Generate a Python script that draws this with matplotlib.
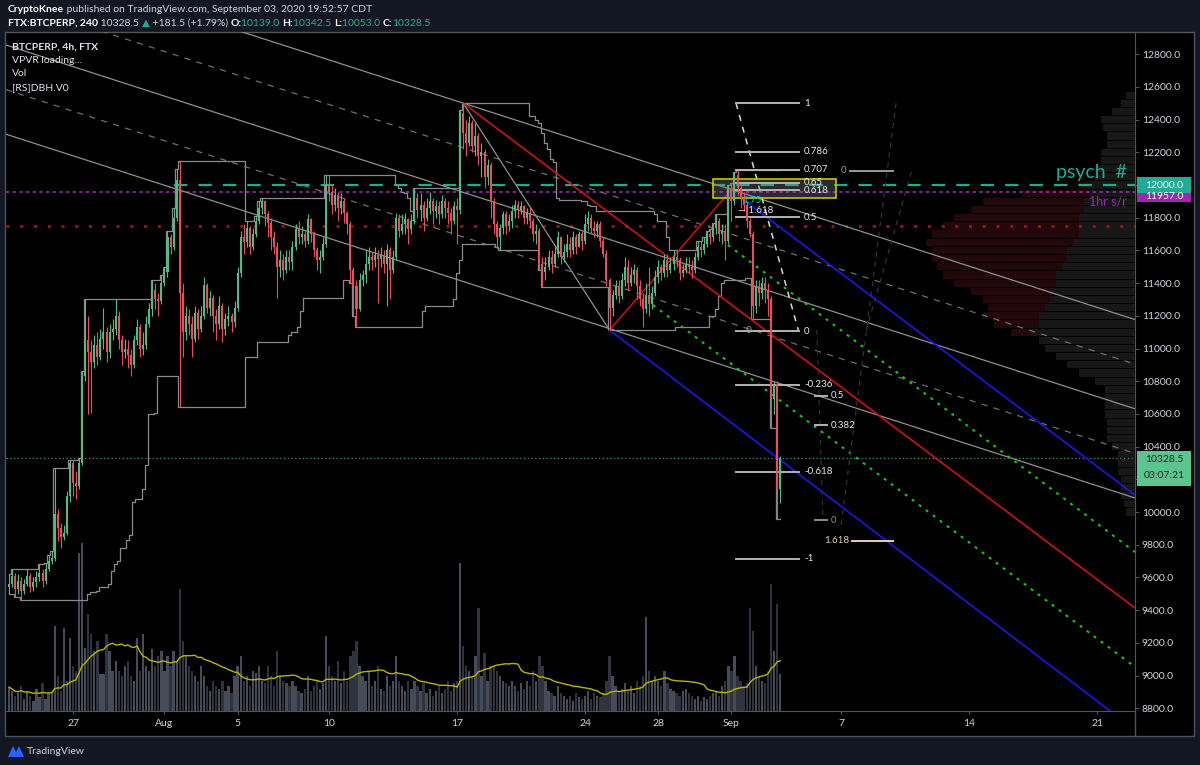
import numpy as np
import pandas as pd
import matplotlib
matplotlib.use('Agg')
import matplotlib.pyplot as plt
import matplotlib.transforms as mtransforms
from matplotlib.patches import Rectangle, Polygon

plt.rcParams['font.family'] = ['Lato', 'DejaVu Sans']

W, H = 1200, 765

# ---- FTX BTC-PERP 4h candles (first candle 2020-07-23 12:00)
start_time = '2020-07-23 12:00'
first_open = 9540
closes = [
    9560, 9610, 9530,                                  # Jul 23
    9580, 9520, 9560, 9610, 9540, 9570,                # Jul 24
    9600, 9630, 9580, 9650, 9700, 9720,
    9990, 9900, 9850, 9870, 10100, 10300,
    10180, 10160, 10300, 10830, 11050, 10980,          # Jul 27
    10920, 11020, 10950, 11060, 11100, 10980,
    11100, 11120, 11200, 11050, 10980, 11000,
    10960, 10900, 11050, 11130, 11000, 11020,
    11150, 11240, 11360, 11300, 11290, 11400,
    11470, 11680, 11620, 11800, 12030, 11340,          # Aug 1
    11100, 11200, 11150, 11060, 11220, 11120,
    11200, 11390, 11250, 11310, 11200, 11150,
    11260, 11120, 11180, 11200, 11160, 11250,
    11460, 11680, 11650, 11740, 11620, 11700,          # Aug 5
    11780, 11860, 11900, 11820, 11770, 11680,
    11620, 11500, 11540, 11480, 11560, 11530,
    11620, 11730, 11680, 11700, 11660, 11790,
    11700, 11600, 11540, 11560, 11640, 12000,
    11960, 11880, 11940, 11860, 11900, 11830,          # Aug 10
    11760, 11480, 11380, 11240, 11420, 11450,
    11520, 11560, 11540, 11570, 11550, 11570,
    11520, 11600, 11480, 11560, 11800, 11720,
    11760, 11790, 11730, 11780, 11920, 11850,
    11880, 11800, 11860, 11900, 11840, 11870,
    11820, 11900, 11860, 11830, 11780, 11870,
    11850, 12440, 12320, 12260, 12380, 12240,          # Aug 17
    12300, 12180, 12200, 12050, 12120, 11900,
    11760, 11680, 11740, 11820, 11750, 11780,
    11840, 11880, 11850, 11870, 11800, 11830,
    11780, 11700, 11720, 11520, 11470, 11500,
    11560, 11520, 11580, 11680, 11560, 11590,
    11640, 11600, 11680, 11620, 11700, 11660,
    11760, 11800, 11740, 11720, 11760, 11660,          # Aug 24
    11580, 11420, 11250, 11330, 11380, 11320,
    11420, 11500, 11400, 11450, 11480, 11380,
    11300, 11240, 11330, 11270, 11340, 11440,
    11500, 11460, 11540, 11480, 11520, 11560,
    11540, 11460, 11480, 11520, 11500, 11480,
    11560, 11620, 11600, 11640, 11700, 11680,
    11740, 11780, 11700, 11720, 11660, 11980,          # Aug 31
    11900, 12060, 11980, 11920, 11880, 11780,          # Sep 1
    11700, 11260, 11380, 11340, 11400, 11360,
    11300, 10690, 10780, 10139, 10328.5,               # Sep 3
]
highs = [
    9620, 9650, 9630,
    9620, 9600, 9590, 9650, 9630, 9600,
    9640, 9680, 9650, 9690, 9740, 9760,
    10270, 10020, 9930, 9920, 10130, 10320,
    10320, 10250, 10330, 10860, 11300, 11200,
    11050, 11080, 11100, 11120, 11250, 11130,
    11150, 11180, 11300, 11230, 11080, 11060,
    11050, 11000, 11080, 11180, 11150, 11100,
    11200, 11280, 11420, 11400, 11340, 11450,
    11500, 11720, 11700, 11860, 12100, 12150,
    11400, 11260, 11240, 11200, 11260, 11240,
    11260, 11440, 11400, 11350, 11330, 11240,
    11320, 11280, 11220, 11260, 11220, 11290,
    11500, 11720, 11760, 11780, 11750, 11740,
    11810, 11900, 11920, 11910, 11840, 11800,
    11720, 11650, 11600, 11580, 11600, 11600,
    11660, 11760, 11780, 11750, 11720, 11820,
    11800, 11720, 11620, 11600, 11680, 12060,
    12060, 12000, 11980, 11960, 11950, 11920,
    11840, 11780, 11500, 11420, 11460, 11480,
    11600, 11620, 11590, 11620, 11600, 11620,
    11600, 11640, 11620, 11600, 11830, 11820,
    11820, 11830, 11800, 11820, 11980, 11950,
    11950, 11900, 11920, 11960, 11920, 11910,
    11900, 11940, 11920, 11900, 11860, 11900,
    11920, 12460, 12501, 12400, 12420, 12400,
    12380, 12320, 12260, 12220, 12160, 12140,
    11920, 11780, 11760, 11840, 11840, 11820,
    11880, 11910, 11900, 11900, 11880, 11860,
    11870, 11800, 11760, 11740, 11560, 11560,
    11600, 11600, 11620, 11720, 11690, 11640,
    11700, 11680, 11720, 11700, 11720, 11720,
    11820, 11840, 11820, 11780, 11780, 11780,
    11680, 11600, 11430, 11360, 11420, 11420,
    11460, 11560, 11540, 11500, 11520, 11500,
    11420, 11340, 11400, 11500, 11380, 11480,
    11540, 11520, 11580, 11580, 11560, 11600,
    11600, 11560, 11520, 11560, 11560, 11540,
    11590, 11660, 11660, 11680, 11720, 11730,
    11770, 11820, 11800, 11760, 11760, 12000,
    12010, 12080, 12090, 12000, 11960, 11900,
    11800, 11720, 11420, 11420, 11440, 11440,
    11400, 11320, 10800, 10800, 10342.5,
]
lows = [
    9500, 9540, 9480,
    9500, 9460, 9500, 9550, 9510, 9520,
    9540, 9580, 9540, 9560, 9640, 9680,
    9700, 9820, 9780, 9830, 9860, 10060,
    10100, 10080, 10140, 10290, 10800, 10600,
    10606, 10880, 10900, 10930, 11000, 10920,
    10940, 11050, 11080, 11000, 10900, 10940,
    10880, 10830, 10880, 11020, 10950, 10960,
    11000, 11130, 11200, 11240, 11200, 11270,
    11380, 11440, 11580, 11600, 11780, 10640,
    10950, 11050, 11080, 10950, 11040, 11060,
    11100, 11180, 11220, 11200, 11100, 11050,
    11120, 11040, 11080, 11140, 11100, 11130,
    11230, 11440, 11580, 11620, 11580, 11600,
    11680, 11760, 11820, 11750, 11680, 11600,
    11580, 11310, 11440, 11420, 11460, 11480,
    11480, 11600, 11640, 11640, 11620, 11640,
    11650, 11560, 11480, 11460, 11540, 11620,
    11900, 11820, 11840, 11780, 11820, 11770,
    11700, 11400, 11200, 11130, 11230, 11380,
    11400, 11480, 11480, 11500, 11280, 11500,
    11460, 11260, 11300, 11460, 11540, 11680,
    11700, 11700, 11640, 11700, 11760, 11800,
    11780, 11720, 11780, 11820, 11760, 11800,
    11760, 11800, 11800, 11760, 11700, 11760,
    11640, 11820, 12220, 12180, 12240, 12200,
    12180, 12120, 12050, 11980, 12000, 11800,
    11700, 11620, 11600, 11700, 11700, 11720,
    11740, 11800, 11800, 11820, 11760, 11760,
    11740, 11660, 11640, 11480, 11376, 11420,
    11480, 11460, 11500, 11560, 11520, 11530,
    11560, 11560, 11580, 11580, 11620, 11600,
    11640, 11720, 11700, 11680, 11680, 11620,
    11560, 11380, 11113, 11200, 11300, 11280,
    11300, 11380, 11360, 11380, 11400, 11300,
    11260, 11130, 11220, 11200, 11240, 11320,
    11400, 11420, 11440, 11440, 11460, 11480,
    11500, 11420, 11440, 11460, 11460, 11430,
    11460, 11540, 11560, 11580, 11620, 11640,
    11660, 11700, 11660, 11640, 11540, 11640,
    11780, 11880, 11940, 11860, 11840, 11740,
    11680, 11180, 11220, 11260, 11300, 11280,
    11200, 10514, 10600, 9960, 10053,
]
volumes = [
    24, 20, 15,
    18, 25, 12, 20, 15, 10,
    22, 14, 28, 12, 18, 20,
    85, 35, 20, 83, 30, 73,
    45, 40, 158, 168, 63, 97,
    77, 60, 70, 37, 37, 77,
    60, 40, 50, 40, 35, 45,
    50, 35, 30, 73, 40, 77,
    45, 40, 62, 45, 55, 60,
    40, 55, 45, 60, 50, 122,
    70, 55, 45, 40, 35, 30,
    45, 35, 25, 20, 30, 25,
    22, 30, 20, 25, 18, 35,
    45, 55, 30, 35, 25, 40,
    38, 45, 30, 28, 45, 35,
    25, 60, 35, 30, 28, 25,
    30, 25, 20, 18, 22, 35,
    20, 25, 30, 22, 28, 75,
    45, 35, 30, 50, 28, 40,
    30, 55, 60, 70, 45, 35,
    30, 40, 25, 30, 45, 22,
    20, 35, 25, 30, 55, 30,
    25, 20, 30, 22, 30, 25,
    20, 28, 18, 22, 15, 20,
    25, 18, 22, 30, 20, 28,
    30, 148, 65, 45, 40, 35,
    55, 103, 35, 58, 30, 45,
    45, 40, 35, 30, 28, 25,
    30, 25, 20, 28, 22, 30,
    25, 40, 30, 55, 45, 30,
    20, 18, 15, 25, 18, 15,
    12, 15, 10, 18, 14, 12,
    15, 20, 12, 18, 15, 14,
    18, 30, 55, 35, 25, 20,
    22, 28, 20, 25, 18, 30,
    25, 35, 94, 40, 30, 35,
    30, 25, 40, 28, 22, 20,
    18, 15, 20, 22, 18, 15,
    12, 15, 10, 14, 12, 15,
    18, 20, 15, 25, 30, 45,
    40, 55, 35, 30, 25, 28,
    103, 80, 45, 35, 30, 28,
    40, 127, 60, 107, 37,
]

# volume profile (VPVR) rows: price, grey part and red part (fraction of pane width)
vp_price = [12550, 12500, 12450, 12400, 12350, 12300, 12250, 12200, 12150, 12100, 12050,
            12000, 11950, 11900, 11850, 11800, 11750, 11700, 11650, 11600, 11550, 11500,
            11450, 11400, 11350, 11300, 11250, 11200, 11150, 11100, 11050, 11000, 10950,
            10900, 10850, 10800, 10750, 10700, 10650, 10600, 10550, 10500, 10450, 10400,
            10350, 10300, 10250, 10200, 10150, 10100, 10050, 10000]
vp_grey = [0.008, 0.012, 0.02, 0.03, 0.028, 0.025, 0.025, 0.03, 0.03, 0.035, 0.035,
           0.04, 0.04, 0.045, 0.045, 0.05, 0.05, 0.05, 0.055, 0.06, 0.06, 0.065,
           0.07, 0.07, 0.075, 0.075, 0.08, 0.085, 0.085, 0.09, 0.085, 0.08, 0.07,
           0.06, 0.05, 0.035, 0.027, 0.027, 0.027, 0.027, 0.025, 0.025, 0.025, 0.02,
           0.015, 0.015, 0.015, 0.012, 0.012, 0.012, 0.01, 0.008]
vp_red = [0, 0, 0, 0, 0, 0, 0, 0, 0, 0, 0,
          0.01, 0.06, 0.09, 0.10, 0.11, 0.12, 0.13, 0.13, 0.12, 0.12, 0.11,
          0.10, 0.09, 0.07, 0.06, 0.05, 0.05, 0.04, 0.02, 0, 0, 0,
          0, 0, 0, 0, 0, 0, 0, 0, 0, 0, 0,
          0, 0, 0, 0, 0, 0, 0, 0]

# drawings: (time, price) anchors
chan_t = ['2020-07-23 08:00', '2020-09-23 01:30']
chan_top = [13402, 11177]
chan_width = 1091
chan_levels = [0, 0.25, 0.5, 0.75, 1.0]
chan_styles = ['-', '--', '-', '--', '-']

trend_lines = [
    # t0, p0, t1, p1, color, style, lw
    ('2020-08-17 08:00', 12501, '2020-08-25 08:00', 11113, '#8f8f8f', '-', 0.9),
    ('2020-08-17 08:00', 12501, '2020-09-23 01:30', 9413, '#e01010', '-', 1.1),
    ('2020-08-25 08:00', 11113, '2020-09-01 02:00', 11982, '#e01010', '-', 1.0),
    ('2020-08-25 08:00', 11113, '2020-09-23 01:30', 8667, '#1818e8', '-', 1.2),
    ('2020-09-01 11:00', 11927, '2020-09-23 01:30', 10104, '#1818e8', '-', 1.2),
    ('2020-08-31 19:30', 11633, '2020-09-23 01:30', 9755, '#10d010', ':', 1.4),
    ('2020-08-27 17:00', 11266, '2020-09-23 01:30', 9052, '#10d010', ':', 1.4),
    ('2020-09-01 06:00', 12501, '2020-09-04 16:00', 11107, '#d8d8d8', '--', 1.1),
    ('2020-09-10 00:00', 12501, '2020-09-06 23:00', 9890, '#333333', '--', 0.9),
    ('2020-09-10 20:00', 12080, '2020-09-08 09:00', 11113, '#333333', '--', 0.9),
    ('2020-09-05 16:00', 11113, '2020-09-06 00:00', 9980, '#2c2c2c', '--', 0.9),
]

fib_a_t = ['2020-09-01 06:00', '2020-09-04 16:00']
fib_a_p0, fib_a_p1 = 11107, 12501
fib_a_ratios = [1, 0.786, 0.707, 0.65, 0.618, 0.5, 0, -0.236, -0.618, -1]
fib_a_labels = ['1', '0.786', '0.707', '0.65', '0.618', '0.5', '0', '-0.236', '-0.618', '-1']

fib_b_t = ['2020-09-05 14:00', '2020-09-06 05:00']
fib_b_p0, fib_b_p1 = 9951, 11469
fib_b_ratios = [0.5, 0.382, 0]
fib_b_labels = ['0.5', '0.382', '0']

levels = {'psych': 12000, 'sr_1h': 11957, 'red_dot': 11750}
last_price = 10328.5
box_t = ['2020-08-31 00:00', '2020-09-06 17:30']
box_p = [11920, 12037]

date_ticks = ['2020-07-27', '2020-08-01', '2020-08-05', '2020-08-10', '2020-08-17',
              '2020-08-24', '2020-08-28', '2020-09-01', '2020-09-07', '2020-09-14', '2020-09-21']
date_labels = ['27', 'Aug', '5', '10', '17', '24', '28', 'Sep', '7', '14', '21']
price_ticks = list(range(8800, 12801, 200))

UP, DN = '#53b987', '#eb4d5c'
TXT = '#d1d4dc'

ref = pd.Timestamp('2020-07-27')


def days(s):
    return (pd.Timestamp(s) - ref) / pd.Timedelta(days=1)


n = len(closes)
assert len(highs) == n and len(lows) == n and len(volumes) == n
times = pd.date_range(start_time, periods=n, freq='4h')
tx = ((times - ref) / pd.Timedelta(days=1)).to_numpy()
c = np.array(closes, dtype=float)
o = np.array([first_open] + closes[:-1], dtype=float)
hi = np.maximum(np.array(highs, dtype=float), np.maximum(o, c))
lo = np.minimum(np.array(lows, dtype=float), np.minimum(o, c))
up = c >= o
cols = np.where(up, UP, DN)

fig = plt.figure(figsize=(W / 100, H / 100), dpi=100, facecolor='#131722')


def px_rect(x0, y0, x1, y1):
    return [x0 / W, 1 - y1 / H, (x1 - x0) / W, (y1 - y0) / H]


# black chart panel with border
fig.patches.append(Rectangle((5 / W, 1 - 736 / H), 1189 / W, 704 / H, transform=fig.transFigure,
                             facecolor='black', edgecolor='#50535e', lw=1, zorder=0))
fig.add_artist(plt.Line2D([1135 / W, 1135 / W], [1 - 736 / H, 1 - 711 / H], color='#50535e', lw=1))

rect = px_rect(6, 32, 1135, 711)
XL = ((6 - 73) / 18.29, (1135 - 73) / 18.29)
YL = (8783, 12936)

# volume pane (overlay)
vol = fig.add_axes(rect, zorder=1)
vol.set_facecolor('none')
vol.bar(tx, volumes, width=0.125, color=np.where(up, '#474b57', '#30333d'), linewidth=0)
ma = pd.Series(volumes).rolling(20, min_periods=1).mean()
vol.plot(tx, ma, color='#b9b400', lw=1)
vol.set_xlim(XL)
vol.set_ylim(0, 679)
vol.axis('off')

ax = fig.add_axes(rect, zorder=2)
ax.set_facecolor('none')
ax.set_xlim(XL)
ax.set_ylim(YL)

# volume profile
ytr = ax.get_yaxis_transform()
vg = np.array(vp_grey)
vr = np.array(vp_red)
ax.barh(vp_price, vg, left=1 - vg, height=44, color='#171717', transform=ytr, zorder=0.5, linewidth=0)
ax.barh(vp_price, vr, left=1 - vg - vr, height=44, color='#22080a', transform=ytr, zorder=0.5,
        linewidth=0)

# horizontal levels
ax.axhline(levels['red_dot'], color='#8c1616', lw=2.2, ls=(0, (1, 3.5)), zorder=1)
ax.axhline(levels['sr_1h'], color='#9c27b0', lw=1.2, ls=(0, (2, 2)), zorder=1)
ax.plot([days('2020-08-01 12:00'), XL[1]], [levels['psych']] * 2, color='#22ab94', lw=1.6,
        ls=(0, (6, 5)), zorder=1.2)
ax.axhline(last_price, color='#2e9e6a', lw=0.9, ls=(0, (1, 2)), zorder=1)

# parallel channel
ct = [days(s) for s in chan_t]
for lvl, st in zip(chan_levels, chan_styles):
    yy = [p - lvl * chan_width for p in chan_top]
    if st == '-':
        ax.plot(ct, yy, color='#8f8f8f', lw=0.9, zorder=2)
    else:
        ax.plot(ct, yy, color='#6e6e6e', lw=0.9, ls=(0, (5, 5)), zorder=2)

# Donchian-style channel ([RS]DBH)
dc_up = pd.Series(hi).rolling(22, min_periods=1).max()
dc_dn = pd.Series(lo).rolling(22, min_periods=1).min()
ax.plot(tx, dc_up, color='#8a8a8a', lw=0.9, drawstyle='steps-mid', zorder=2)
ax.plot(tx, dc_dn, color='#8a8a8a', lw=0.9, drawstyle='steps-mid', zorder=2)

# trend lines
for t0, p0, t1, p1, colr, st, lw in trend_lines:
    ls = {'-': '-', '--': (0, (4, 4)), ':': (0, (1.5, 3))}[st]
    ax.plot([days(t0), days(t1)], [p0, p1], color=colr, lw=lw, ls=ls, zorder=3)

# yellow zone
ax.add_patch(Rectangle((days(box_t[0]), box_p[0]), days(box_t[1]) - days(box_t[0]),
                       box_p[1] - box_p[0], facecolor='#7a7a7a', alpha=0.35, edgecolor='none', zorder=3))
ax.add_patch(Rectangle((days(box_t[0]), box_p[0]), days(box_t[1]) - days(box_t[0]),
                       box_p[1] - box_p[0], facecolor='none', edgecolor='#c8c400', lw=1.2, zorder=4))

# fib levels
fa = [days(s) for s in fib_a_t]
for r, lab in zip(fib_a_ratios, fib_a_labels):
    p = fib_a_p0 + r * (fib_a_p1 - fib_a_p0)
    ax.plot(fa, [p, p], color='#b4b4b4', lw=1.4, zorder=4)
    ax.annotate(lab, (fa[1], p), xytext=(4, 0), textcoords='offset points', va='center',
                ha='left', color='#e8e8e8', fontsize=7, zorder=8)
fb = [days(s) for s in fib_b_t]
for r, lab in zip(fib_b_ratios, fib_b_labels):
    p = fib_b_p0 + r * (fib_b_p1 - fib_b_p0)
    colr = '#8a8a8a' if r == 0 else '#b4b4b4'
    ax.plot(fb, [p, p], color=colr, lw=1.4, zorder=4)
    ax.annotate(lab, (fb[1], p), xytext=(3, 0), textcoords='offset points', va='center',
                ha='left', color='#8a8a8a' if r == 0 else '#e8e8e8', fontsize=7, zorder=8)

ext_t = [days('2020-09-07 14:00'), days('2020-09-09 20:00')]
ax.plot(ext_t, [9823, 9823], color='#e6d2b0', lw=1.4, zorder=4)
ax.annotate('1.618', (ext_t[0], 9823), xytext=(-2, 0), textcoords='offset points', va='center',
            ha='right', color='#e6d2b0', fontsize=7)
ax.plot([days('2020-09-07 12:00'), ext_t[1]], [12086, 12086], color='#9a9a9a', lw=1.4, zorder=4)
ax.annotate('0', (days('2020-09-07 12:00'), 12086), xytext=(-3, 0), textcoords='offset points',
            va='center', ha='right', color='#9a9a9a', fontsize=7)
ax.annotate('\u2014 1.618', (days('2020-09-01 09:00'), 11847), va='center', ha='left',
            color='#e8e8e8', fontsize=7, zorder=8)
ax.annotate('1.75', (days('2020-09-01 14:00'), 11908), va='center', ha='left',
            color='#00c8e0', fontsize=7, zorder=8)
ax.annotate('\u2014 0', (days('2020-09-01 06:00'), 11113), va='center', ha='left',
            color='#9a9a9a', fontsize=7, zorder=8)

# candles
ax.vlines(tx, lo, hi, colors=cols, lw=0.8, zorder=5)
ax.bar(tx, np.maximum(np.abs(c - o), 8), width=0.11, bottom=np.minimum(o, c), color=cols,
       linewidth=0, zorder=6)

# texts on chart
ax.text(0.993, 12043, 'psych  #', transform=ax.get_yaxis_transform(), ha='right', va='baseline',
        color='#22ab94', fontsize=14)
ax.text(0.993, 11872, '1hr s/r', transform=ax.get_yaxis_transform(), ha='right', va='baseline',
        color='#9c27b0', fontsize=9)

# axes styling
for s in ['top', 'left']:
    ax.spines[s].set_visible(False)
ax.spines['right'].set_color('#50535e')
ax.spines['bottom'].set_color('#50535e')
ax.yaxis.tick_right()
ax.set_yticks(price_ticks)
ax.set_yticklabels(['' if p in (10200, 12000) else f'{p:.1f}' for p in price_ticks])
ax.tick_params(axis='y', length=3, color='#50535e', labelcolor=TXT, labelsize=7.5, pad=2)
ax.set_xticks([days(d) for d in date_ticks])
ax.set_xticklabels(date_labels)
ax.tick_params(axis='x', length=2, color='#50535e', labelcolor=TXT, labelsize=7.5, pad=4)

# price labels on the scale
lab_tr = mtransforms.blended_transform_factory(fig.transFigure, ax.transData)


def scale_box(p_lo, p_hi, colr):
    ax.add_patch(Rectangle((1137 / W, p_lo), 54 / W, p_hi - p_lo, transform=lab_tr, facecolor=colr,
                           edgecolor='none', clip_on=False, zorder=10))


scale_box(11895, 11985, '#9c27b0')
ax.text(1164 / W, 11930, '11957.0', transform=lab_tr, ha='center', va='center', color='white',
        fontsize=7.5, clip_on=False, zorder=10.5)
scale_box(11951, 12049, '#22ab94')
ax.text(1164 / W, 12000, '12000.0', transform=lab_tr, ha='center', va='center', color='white',
        fontsize=7.5, clip_on=False, zorder=11)
scale_box(10160, 10375, '#5bc48f')
ax.text(1164 / W, 10322, f'{last_price:.1f}', transform=lab_tr, ha='center', va='center',
        color='#132a20', fontsize=7.5, clip_on=False, zorder=11)
ax.text(1164 / W, 10222, '03:07:21', transform=lab_tr, ha='center', va='center',
        color='#132a20', fontsize=7.5, clip_on=False, zorder=11)

# legend, top-left
legend_lines = [('BTCPERP, 4h, FTX', 'bold'), ('VPVR loading...', 'normal'), ('Vol', 'normal'),
                ('[RS]DBH.V0', 'normal')]
for i, (s, wt) in enumerate(legend_lines):
    fig.text(12 / W, 1 - (47 + i * 13.4) / H, s, color='#e0e3eb', fontsize=7.5, fontweight=wt,
             va='center', ha='left', zorder=20)

# header
renderer = fig.canvas.get_renderer()


def text_run(x_px, y_px, parts, size=7.5):
    x = x_px
    for s, colr, wt in parts:
        t = fig.text(x / W, 1 - y_px / H, s, color=colr, fontsize=size, fontweight=wt,
                     va='center', ha='left')
        x += t.get_window_extent(renderer=renderer).width


TEAL = '#22ab94'
text_run(8, 10, [('CryptoKnee', 'white', 'bold'),
                 ('\u00a0published on TradingView.com, September 03, 2020 19:52:57 CDT', '#d1d4dc', 'normal')])
text_run(8, 23, [('FTX:BTCPERP, 240', 'white', 'bold'), ('\u00a010328.5\u00a0', '#d1d4dc', 'normal'),
                 ('\u25b2', TEAL, 'normal'), ('\u00a0+181.5 (+1.79%)\u00a0', '#d1d4dc', 'normal'),
                 ('O:', 'white', 'bold'), ('10139.0\u00a0', TEAL, 'normal'),
                 ('H:', 'white', 'bold'), ('10342.5\u00a0', TEAL, 'normal'),
                 ('L:', 'white', 'bold'), ('10053.0\u00a0', TEAL, 'normal'),
                 ('C:', 'white', 'bold'), ('10328.5', TEAL, 'normal')])

# footer logo
fig.patches.append(Polygon([(8 / W, 1 - 757 / H), (13 / W, 1 - 746 / H), (16 / W, 1 - 752 / H),
                            (19 / W, 1 - 746 / H), (24 / W, 1 - 757 / H)], closed=True,
                           transform=fig.transFigure, facecolor='#2962ff', edgecolor='none'))
fig.text(27 / W, 1 - 752 / H, 'TradingView', color='#d1d4dc', fontsize=7.5, va='center', ha='left')

fig.savefig('out.png', dpi=100, facecolor=fig.get_facecolor())
